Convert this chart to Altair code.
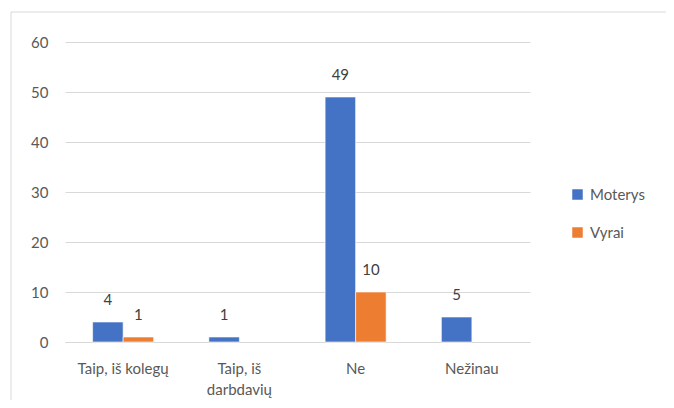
import altair as alt
import pandas as pd

categories = ["Taip, iš kolegų", "Taip, iš\ndarbdavių", "Ne", "Nežinau"]
series = ["Moterys", "Vyrai"]
moterys = [4, 1, 49, 5]
vyrai = [1, None, 10, None]
colors = ["#4472C4", "#ED7D31"]

rows = []
for c, m, v in zip(categories, moterys, vyrai):
    if m is not None:
        rows.append({"cat": c, "series": "Moterys", "value": m})
    if v is not None:
        rows.append({"cat": c, "series": "Vyrai", "value": v})
df = pd.DataFrame(rows)

FONT = "Lato"
TXT = "#595959"

x = alt.X("cat:N", sort=categories, title=None,
          scale=alt.Scale(paddingInner=0.475, paddingOuter=0.2375),
          axis=alt.Axis(labelAngle=0, labelExpr="split(datum.label, '\\n')",
                        labelFontSize=15, labelFont=FONT, labelColor=TXT,
                        labelPadding=19, labelLineHeight=21, grid=False,
                        ticks=False, domainColor="#d9d9d9", domainWidth=1.2))
xo = alt.XOffset("series:N", sort=series,
                 scale=alt.Scale(paddingInner=0, paddingOuter=0))
y = alt.Y("value:Q", title=None,
          scale=alt.Scale(domain=[0, 60], nice=False),
          axis=alt.Axis(values=[0, 10, 20, 30, 40, 50, 60], domain=False,
                        ticks=False, tickSize=0, labelPadding=17,
                        labelFontSize=15, labelFont=FONT, labelColor=TXT,
                        gridColor="#d9d9d9", gridWidth=1.2))
color = alt.Color("series:N", sort=series, title=None,
                  scale=alt.Scale(domain=series, range=colors),
                  legend=alt.Legend(orient="none", legendX=505, legendY=145,
                                    symbolType="square", symbolSize=110,
                                    symbolStrokeWidth=0, labelFontSize=15,
                                    labelFont=FONT, labelColor=TXT,
                                    rowPadding=22, labelOffset=5, padding=0))

bars = alt.Chart(df).mark_bar(stroke="white", strokeWidth=0.6).encode(
    x=x, xOffset=xo, y=y, color=color)
labels = alt.Chart(df).mark_text(dy=-22, baseline="middle", fontSize=15,
                                 font=FONT, color="#404040").encode(
    x=alt.X("cat:N", sort=categories, axis=alt.Axis(grid=False)),
    xOffset=xo, y="value:Q", text="value:Q")

border = alt.Chart(pd.DataFrame({"a": [0]})).mark_rect(
    fill="transparent", stroke="#d9d9d9", strokeWidth=1).encode(
    x=alt.value(-54), x2=alt.value(607), y=alt.value(-30), y2=alt.value(400))

chart = alt.layer(border, bars, labels).properties(
    width=465, height=300,
    background="white",
    autosize=alt.AutoSizeParams(type="none"),
    padding={"left": 57, "top": 34, "right": 136, "bottom": 58},
).configure_view(stroke="transparent", strokeWidth=0, strokeOpacity=0
).configure_axisX(grid=False)

chart.save("out.html", embed_options={"renderer": "svg", "actions": False})
